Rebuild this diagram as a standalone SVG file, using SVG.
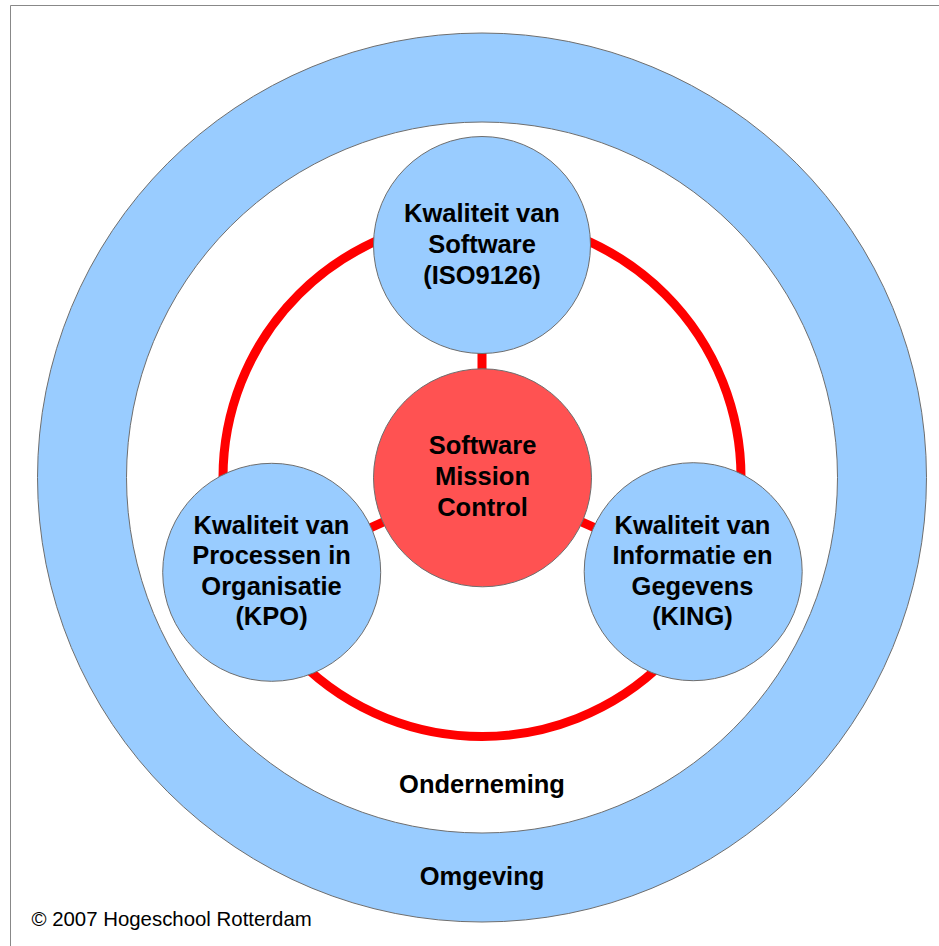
<svg xmlns="http://www.w3.org/2000/svg" width="939" height="946" viewBox="0 0 939 946">
<style>
.ring{fill:#99CCFF;stroke:#6e6e6e;stroke-width:1}
.blue{fill:#99CCFF;stroke:#6e6e6e;stroke-width:1}
.core{fill:#FF5252;stroke:#6e6e6e;stroke-width:1}
.lbl{font-family:"Liberation Sans",Arial,sans-serif;font-weight:bold;font-size:25.5px;fill:#000;text-anchor:middle}
.link{stroke:#FF0000;stroke-width:9;fill:none}
</style>
<rect x="0" y="0" width="939" height="946" fill="#fff"/>
<path d="M10.5 946 V5.5 H939" fill="none" stroke="#888" stroke-width="1"/>
<g id="omgeving">
<circle class="ring" cx="482" cy="477.5" r="444.5"/>
<text class="lbl" x="482" y="885">Omgeving</text>
</g>
<g id="onderneming">
<circle cx="482" cy="477.5" r="355.5" fill="#fff" stroke="#6e6e6e" stroke-width="1"/>
<text class="lbl" x="482" y="793">Onderneming</text>
</g>
<g id="connectors">
<circle class="link" cx="482" cy="477.5" r="259"/>
<line class="link" x1="482" y1="477.5" x2="482" y2="245"/>
<line class="link" x1="482" y1="477.5" x2="271.7" y2="572.3"/>
<line class="link" x1="482" y1="477.5" x2="693.2" y2="571.7"/>
</g>
<g id="iso9126">
<circle class="blue" cx="482" cy="245" r="108.5"/>
<text class="lbl" x="482" y="222">Kwaliteit van</text>
<text class="lbl" x="482" y="253">Software</text>
<text class="lbl" x="482" y="284">(ISO9126)</text>
</g>
<g id="smc">
<circle class="core" cx="482.5" cy="477.8" r="109"/>
<text class="lbl" x="482.5" y="453.5">Software</text>
<text class="lbl" x="482.5" y="484.5">Mission</text>
<text class="lbl" x="482.5" y="515.5">Control</text>
</g>
<g id="kpo">
<circle class="blue" cx="271.7" cy="572.3" r="109"/>
<text class="lbl" x="271.5" y="533.5">Kwaliteit van</text>
<text class="lbl" x="271.5" y="564">Processen in</text>
<text class="lbl" x="271.5" y="594.5">Organisatie</text>
<text class="lbl" x="271.5" y="625">(KPO)</text>
</g>
<g id="king">
<circle class="blue" cx="693.2" cy="571.7" r="109"/>
<text class="lbl" x="692.5" y="533.5">Kwaliteit van</text>
<text class="lbl" x="692.5" y="564">Informatie en</text>
<text class="lbl" x="692.5" y="594.5">Gegevens</text>
<text class="lbl" x="692.5" y="625">(KING)</text>
</g>
<text x="31.5" y="926" font-family="'Liberation Sans',Arial,sans-serif" font-size="20.4" fill="#000">© 2007 Hogeschool Rotterdam</text>
</svg>
